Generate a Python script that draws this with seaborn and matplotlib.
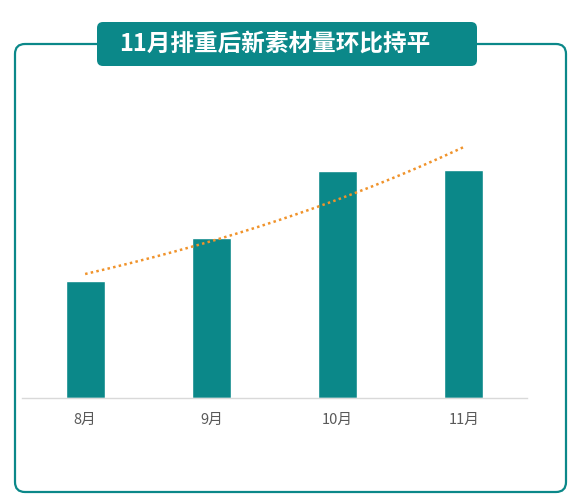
import numpy as np
import pandas as pd
import matplotlib
matplotlib.use("Agg")
import matplotlib.pyplot as plt
from matplotlib.patches import FancyBboxPatch
import seaborn as sns

months = ["8月", "9月", "10月", "11月"]
new_material = [117, 160, 227, 228]
title = "11月排重后新素材量环比持平"

teal = "#0b8889"
orange = "#f0932b"

sns.set_theme(style="white")
plt.rcParams["font.family"] = ["Noto Sans CJK SC", "DejaVu Sans"]

df = pd.DataFrame({"month": months, "value": new_material})

fig = plt.figure(figsize=(5.82, 5.0), dpi=100)
ax = fig.add_axes([22 / 582, 102 / 500, 505 / 582, 298 / 500])

sns.barplot(data=df, x="month", y="value", color=teal, width=0.31,
            saturation=1, ax=ax, zorder=2)

# exponential trend line fitted to the bars (like an Excel trendline)
xs = np.arange(len(new_material))
b, a = np.polyfit(xs, np.log(new_material), 1)
xt = np.linspace(0, len(new_material) - 1, 200)
ax.plot(xt, np.exp(a + b * xt), color=orange, lw=1.8, ls=(0, (1, 1.3)),
        dash_capstyle="butt", zorder=3)

ax.set_xlim(-0.5, 3.5)
ax.set_ylim(0, 298)
ax.set_xlabel("")
ax.set_ylabel("")
ax.set_yticks([])
ax.tick_params(axis="x", length=0, pad=11, labelsize=10.5, labelcolor="#595959")
for side in ["left", "right", "top"]:
    ax.spines[side].set_visible(False)
ax.spines["bottom"].set_color("#d9d9d9")
ax.spines["bottom"].set_linewidth(1)

# outer frame and title box
frame = FancyBboxPatch((0.15, 0.08), 5.51, 4.48,
                       boxstyle="round,pad=0,rounding_size=0.1",
                       transform=fig.dpi_scale_trans, fill=False,
                       edgecolor=teal, linewidth=1.6, zorder=0)
fig.patches.append(frame)
tbox = FancyBboxPatch((0.97, 4.34), 3.80, 0.44,
                      boxstyle="round,pad=0,rounding_size=0.06",
                      transform=fig.dpi_scale_trans, facecolor=teal,
                      edgecolor="none", zorder=1)
fig.patches.append(tbox)
fig.text(1.19 / 5.82, 4.56 / 5.0, title, color="white", fontsize=17,
         fontweight="bold", ha="left", va="center")

fig.savefig("out.png", dpi=100)
